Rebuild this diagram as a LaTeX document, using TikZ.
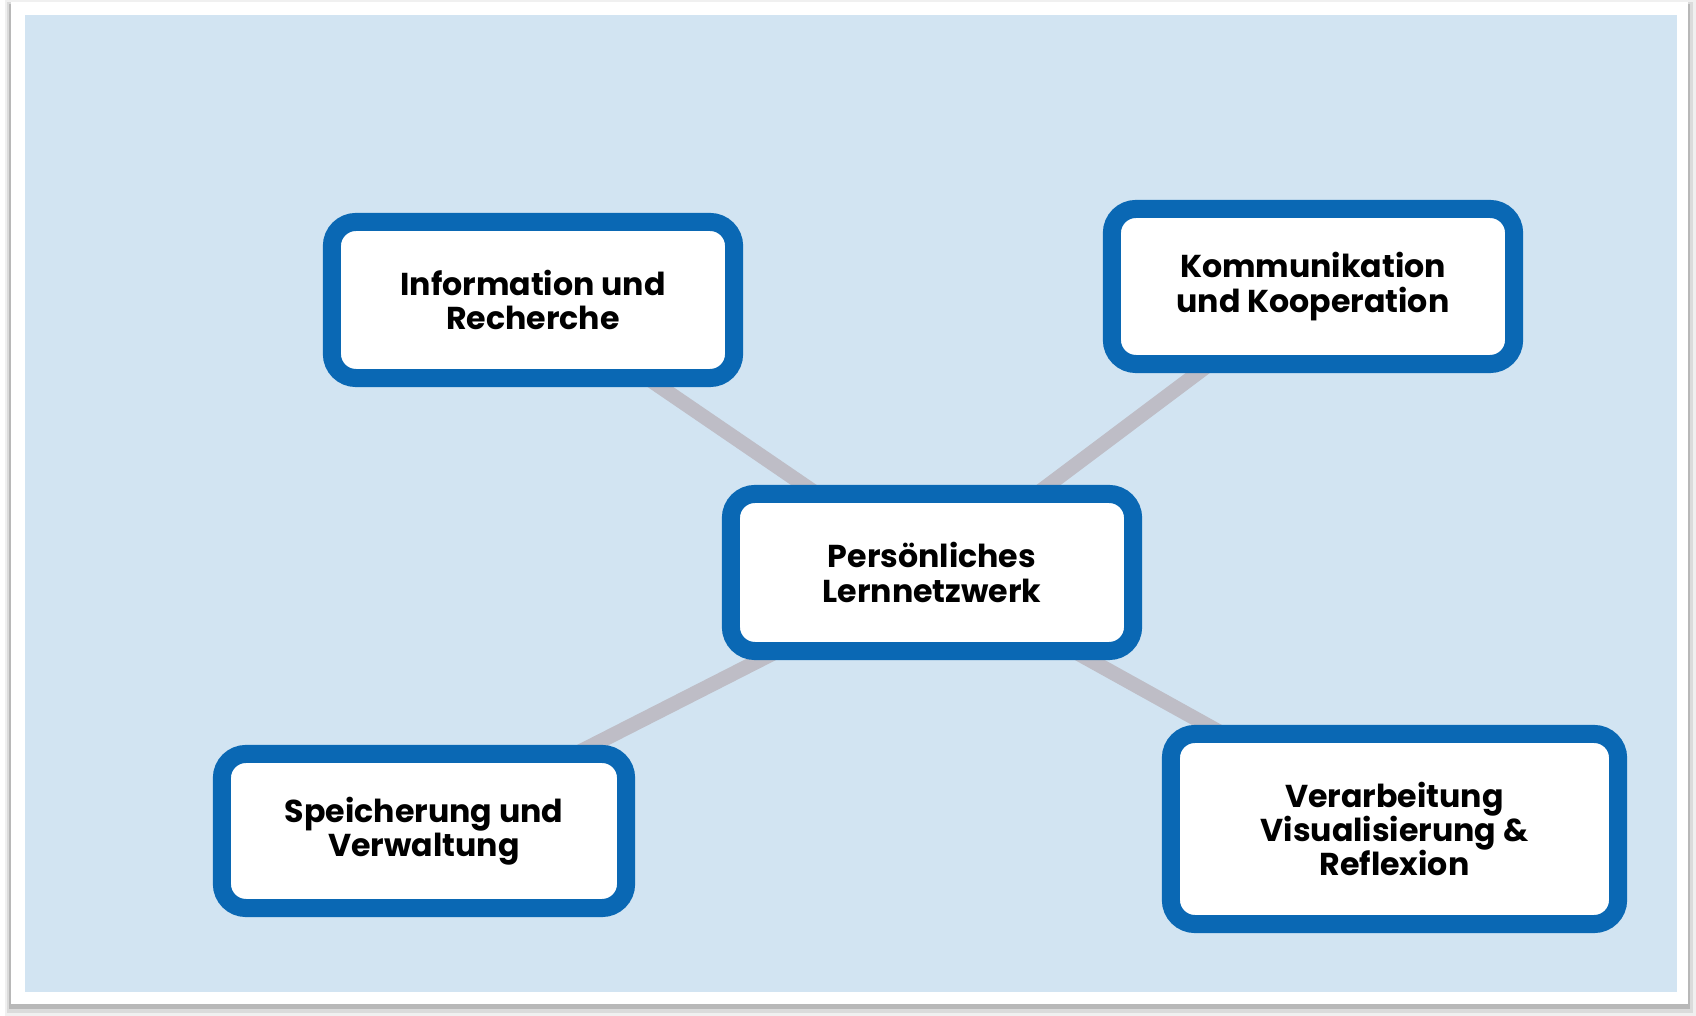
\documentclass[tikz,border=0pt]{standalone}
\usepackage{fontspec}
\setmainfont{Poppins}
\definecolor{bgblue}{RGB}{210,228,242}
\definecolor{boxblue}{RGB}{10,104,180}
\definecolor{conngray}{RGB}{190,189,198}
\pgfdeclarelayer{frame}
\pgfdeclarelayer{links}
\pgfsetlayers{frame,links,main}
\begin{document}
\begin{tikzpicture}[x=0.01cm,y=-0.01cm,
  box/.style={draw=boxblue, line width=1.8mm, fill=white, rounded corners=2.4mm,
    align=center, inner sep=0pt, font=\bfseries\fontsize{9pt}{9.7pt}\selectfont},
  conn/.style={draw=conngray, line width=1.45mm}]
\useasboundingbox (0,0) rectangle (1696,1016);
% nodes
\node[box, minimum width=4.02cm, minimum height=1.56cm] (info) at (533,300) {Information und\\Recherche};
\node[box, minimum width=4.02cm, minimum height=1.55cm] (komm) at (1313,286.5) {Kommunikation\\und Kooperation};
\node[box, minimum width=4.02cm, minimum height=1.57cm] (pln) at (932,572.5) {Persönliches\\Lernnetzwerk};
\node[box, minimum width=4.04cm, minimum height=1.54cm] (spei) at (424,831) {Speicherung und\\Verwaltung};
\node[box, minimum width=4.47cm, minimum height=1.90cm] (verb) at (1394.5,829) {Verarbeitung\\Visualisierung \&\\Reflexion};
% connectors behind the boxes
\begin{pgfonlayer}{links}
\draw[conn] (info.center) -- (pln.center);
\draw[conn] (komm.center) -- (pln.center);
\draw[conn] (spei.center) -- (pln.center);
\draw[conn] (verb.center) -- (pln.center);
\end{pgfonlayer}
% frame with shadow and blue background
\begin{pgfonlayer}{frame}
\fill[black!6] (5,0) rectangle (1696,1016);
\fill[black!14] (7,2) rectangle (1693,1013);
\fill[black!28] (9,4) rectangle (1690,1009);
\fill[white] (11,2) rectangle (1688,1004);
\fill[bgblue] (25,15) rectangle (1677,992);
\end{pgfonlayer}
\end{tikzpicture}
\end{document}
